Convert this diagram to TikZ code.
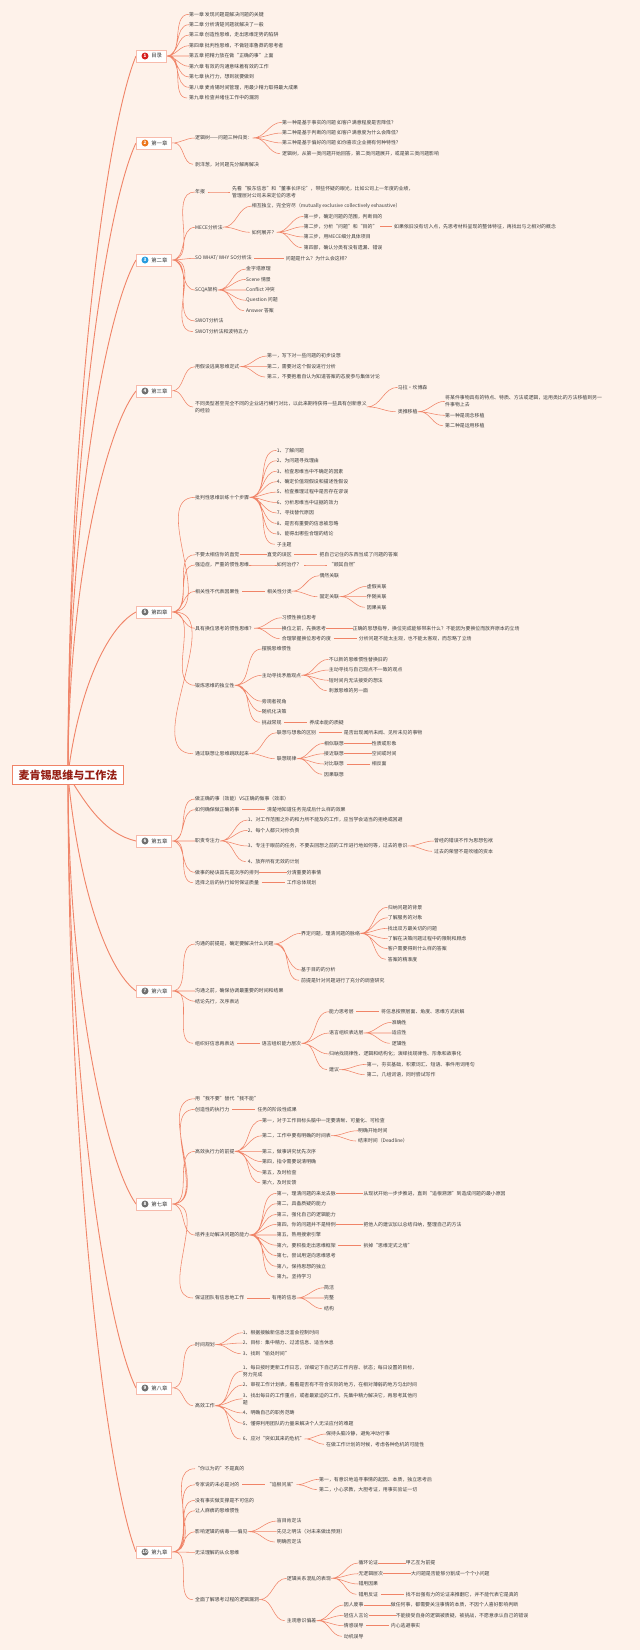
\documentclass[tikz,border=0pt]{standalone}
\usepackage{fontspec}
\setmainfont{Noto Sans CJK SC}
\usetikzlibrary{backgrounds}
\definecolor{bgpeach}{RGB}{254,242,234}
\definecolor{branchred}{RGB}{240,132,104}
\definecolor{inkgray}{RGB}{60,60,60}
\definecolor{rootred}{RGB}{150,30,20}
\definecolor{badgered}{RGB}{214,32,32}
\definecolor{badgeorange}{RGB}{236,118,28}
\definecolor{badgeblue}{RGB}{40,156,222}
\definecolor{badgegray}{RGB}{112,112,112}

\begin{document}
\begin{tikzpicture}[x=1pt, y=-1pt,
    root/.style={draw=branchred, fill=white, line width=0.8pt, inner xsep=6pt,
        inner ysep=4pt, font=\fontsize{11}{12}\selectfont\bfseries, text=rootred},
    chap/.style={anchor=west, draw=branchred!55, fill=white, line width=0.5pt,
        inner xsep=4pt, inner ysep=0pt, minimum height=12pt,
        font=\fontsize{5.4}{6}\selectfont, text=inkgray},
    badge/.style={circle, inner sep=0pt, minimum size=7pt, text=white,
        font=\fontsize{4.5}{5}\selectfont\bfseries},
    leaf/.style={anchor=west, inner xsep=0pt, inner ysep=1pt, align=left,
        font=\fontsize{4.9}{7}\selectfont, text=inkgray},
    link/.style={draw=branchred, line width=0.55pt, out=0, in=180,
        shorten <=2.5pt, shorten >=2pt},
    trunk/.style={draw=branchred, line width=0.9pt}
]

\begin{scope}[on background layer]
\fill[bgpeach] (0,0) rectangle (640,1650);
\end{scope}
\useasboundingbox (0,0) rectangle (640,1650);

% root and chapters
\node[root] (root) at (68,775) {麦肯锡思维与工作法};

\node[chap] (toc) at (136,56) {\hspace*{11pt}目录};
\node[chap] (ch1) at (136,143) {\hspace*{11pt}第一章};
\node[chap] (ch2) at (136,260) {\hspace*{11pt}第二章};
\node[chap] (ch3) at (136,391) {\hspace*{11pt}第三章};
\node[chap] (ch4) at (136,612) {\hspace*{11pt}第四章};
\node[chap] (ch5) at (136,841) {\hspace*{11pt}第五章};
\node[chap] (ch6) at (136,991) {\hspace*{11pt}第六章};
\node[chap] (ch7) at (136,1204) {\hspace*{11pt}第七章};
\node[chap] (ch8) at (136,1388) {\hspace*{11pt}第八章};
\node[chap] (ch9) at (136,1552) {\hspace*{11pt}第九章};

\node[badge, fill=badgered] (toc_n) at ([xshift=9pt]toc.west) {1};
\node[badge, fill=badgeorange] (ch1_n) at ([xshift=9pt]ch1.west) {2};
\node[badge, fill=badgeblue] (ch2_n) at ([xshift=9pt]ch2.west) {3};
\node[badge, fill=badgegray] (ch3_n) at ([xshift=9pt]ch3.west) {4};
\node[badge, fill=badgegray] (ch4_n) at ([xshift=9pt]ch4.west) {5};
\node[badge, fill=badgegray] (ch5_n) at ([xshift=9pt]ch5.west) {6};
\node[badge, fill=badgegray] (ch6_n) at ([xshift=9pt]ch6.west) {7};
\node[badge, fill=badgegray] (ch7_n) at ([xshift=9pt]ch7.west) {8};
\node[badge, fill=badgegray] (ch8_n) at ([xshift=9pt]ch8.west) {9};
\node[badge, fill=badgegray] (ch9_n) at ([xshift=9pt]ch9.west) {10};

% 目录
\node[leaf] (toc1) at (189,14.3) {第一章 发现问题是解决问题的关键};
\node[leaf] (toc2) at (189,24.7) {第二章 分析清楚问题就解决了一般};
\node[leaf] (toc3) at (189,35) {第三章 创造性思维，走出思维定势的陷阱};
\node[leaf] (toc4) at (189,45.7) {第四章 批判性思维，不做轻率鲁莽的思考者};
\node[leaf] (toc5) at (189,56) {第五章 把精力放在做“正确的事”上面};
\node[leaf] (toc6) at (189,66.3) {第六章 有效的沟通意味着有效的工作};
\node[leaf] (toc7) at (189,77) {第七章 执行力，想到就要做到};
\node[leaf] (toc8) at (189,87.3) {第八章 麦肯锡时间管理，用最少精力取得最大成果};
\node[leaf] (toc9) at (189,98) {第九章 检查并堵住工作中的漏洞};

% 第一章
\node[leaf] (c1a) at (195,138) {逻辑树——问题三种归类：};
\node[leaf] (c1a1) at (282,122.3) {第一种是基于事实的问题 如客户满意程度是否降低？};
\node[leaf] (c1a2) at (282,133) {第二种是基于判断的问题 如客户满意度为什么会降低？};
\node[leaf] (c1a3) at (282,143) {第三种是基于偏好的问题 如你喜欢企业拥有何种特性？};
\node[leaf] (c1a4) at (282,153.7) {逻辑树，从第一类问题开始回答，第二类问题展开，或是第三类问题影响};
\node[leaf] (c1b) at (195,164.3) {剥洋葱，对问题先分解再解决};

% 第二章
\node[leaf] (c2a) at (195,192) {年报};
\node[leaf] (c2a1) at (232,192) {先看“股东信息”和“董事长评论”，带些怀疑的眼光，比如公司上一年度的业绩，\\管理层对公司未来定位的思考};
\node[leaf] (c2b) at (195,227.3) {MECE分析法};
\node[leaf] (c2b1) at (251.7,206) {相互独立，完全穷尽（mutually exclusive collectively exhaustive）};
\node[leaf] (c2b2) at (251.7,232.3) {如何展开？};
\node[leaf] (c2b21) at (303.7,216.3) {第一步，确定问题的范围，判断目的};
\node[leaf] (c2b22) at (303.7,226.7) {第二步，分析“问题”和“目的”};
\node[leaf] (c2b221) at (394,226.7) {如果依旧没有切入点，先思考材料呈现的整体特征，再找出与之相对的概念};
\node[leaf] (c2b23) at (303.7,237) {第三步，用MECE细分具体项目};
\node[leaf] (c2b24) at (303.7,247.7) {第四部，确认分类有没有遗漏、错误};
\node[leaf] (c2c) at (195,258.3) {SO WHAT/ WHY SO分析法};
\node[leaf] (c2c1) at (285.7,258.3) {问题是什么？为什么会这样？};
\node[leaf] (c2d) at (195,290) {SCQA架构};
\node[leaf] (c2d1) at (246,269) {金字塔原理};
\node[leaf] (c2d2) at (246,279.3) {Scene 情景};
\node[leaf] (c2d3) at (246,290) {Conflict 冲突};
\node[leaf] (c2d4) at (246,300.3) {Question 问题};
\node[leaf] (c2d5) at (246,310.7) {Answer 答案};
\node[leaf] (c2e) at (195,321) {SWOT分析法};
\node[leaf] (c2f) at (195,331.7) {SWOT分析法和波特五力};

% 第三章
\node[leaf] (c3a) at (195,366.7) {用假设逃离思维定式};
\node[leaf] (c3a1) at (267,356) {第一，写下对一些问题的初步设想};
\node[leaf] (c3a2) at (267,366.7) {第二，需要对这个假设进行分析};
\node[leaf] (c3a3) at (267,377) {第三，不要抱着自认为知道答案的态度参与集体讨论};
\node[leaf] (c3b) at (195,407) {不同类型甚至完全不同的企业进行横行对比，以此来期待获得一些具有创新意义\\的经验};
\node[leaf] (c3b1) at (397.7,387.3) {马拉·坎博森};
\node[leaf] (c3b2) at (397.7,411.7) {类推移植};
\node[leaf] (c3b21) at (445,401.3) {将某件事物具有的特点、特质、方法或逻辑，运用类比的方法移植到另一\\件事物上去};
\node[leaf] (c3b22) at (445,415.3) {第一种是观念移植};
\node[leaf] (c3b23) at (445,425.7) {第二种是运用移植};

% 第四章
\node[leaf] (c4a) at (195,497.3) {批判性思维训练十个步骤};
\node[leaf] (c4a1) at (276.7,450.3) {1、了解问题};
\node[leaf] (c4a2) at (276.7,460.7) {2、为问题寻找理由};
\node[leaf] (c4a3) at (276.7,471.2) {3、检查思维当中不确定的因素};
\node[leaf] (c4a4) at (276.7,481.6) {4、确定价值观假设和描述性假设};
\node[leaf] (c4a5) at (276.7,492.1) {5、检查推理过程中是否存在谬误};
\node[leaf] (c4a6) at (276.7,502.5) {6、分析思维当中证据的效力};
\node[leaf] (c4a7) at (276.7,513) {7、寻找替代原因};
\node[leaf] (c4a8) at (276.7,523.4) {8、是否有重要的信息被忽略};
\node[leaf] (c4a9) at (276.7,533.9) {9、能得出哪些合理的结论};
\node[leaf] (c4a10) at (276.7,544.3) {子主题};
\node[leaf] (c4b) at (195,554.7) {不要太相信你的直觉};
\node[leaf] (c4b1) at (267,554.7) {直觉的误区};
\node[leaf] (c4b11) at (319.3,554.7) {把自己记住的东西当成了问题的答案};
\node[leaf] (c4c) at (195,565) {强迫症，严重的惯性思维};
\node[leaf] (c4c1) at (276.7,565) {如何治疗？};
\node[leaf] (c4c11) at (328.7,565) {“顺其自然”};
\node[leaf] (c4d) at (195,591.3) {相关性不代表因果性};
\node[leaf] (c4d1) at (267,591.3) {相关性分类};
\node[leaf] (c4d11) at (319.3,575.7) {偶然关联};
\node[leaf] (c4d12) at (319.3,596.7) {固定关联};
\node[leaf] (c4d121) at (366.7,586.3) {虚假关联};
\node[leaf] (c4d122) at (366.7,596.7) {伴随关联};
\node[leaf] (c4d123) at (366.7,607.3) {因果关联};
\node[leaf] (c4e) at (195,628.3) {具有换位思考的惯性思维？};
\node[leaf] (c4e1) at (281.7,617.7) {习惯性换位思考};
\node[leaf] (c4e2) at (281.7,628.3) {换位之前，先换思考};
\node[leaf] (c4e21) at (352.7,628.3) {正确的思想指导，换位完成能够带来什么？不能因为要换位而放弃原本的立场};
\node[leaf] (c4e3) at (281.7,638.7) {合理掌握换位思考的度};
\node[leaf] (c4e31) at (358.7,638.7) {分析问题不能太主观，也不能太客观，而忽略了立场};
\node[leaf] (c4f) at (195,685.3) {锻炼思维的独立性};
\node[leaf] (c4f1) at (261.7,649) {摆脱思维惯性};
\node[leaf] (c4f2) at (261.7,675.3) {主动寻找矛盾观点};
\node[leaf] (c4f21) at (328.7,659.3) {不以新的思维惯性替换旧的};
\node[leaf] (c4f22) at (328.7,670) {主动寻找与自己观点不一致的观点};
\node[leaf] (c4f23) at (328.7,680.3) {短时间内无法接受的想法};
\node[leaf] (c4f24) at (328.7,690.7) {刺激思维的另一面};
\node[leaf] (c4f3) at (261.7,701.3) {旁观者视角};
\node[leaf] (c4f4) at (261.7,711.7) {随机化决策};
\node[leaf] (c4f5) at (261.7,722.3) {挑战常规};
\node[leaf] (c4f51) at (309.3,722.3) {养成本能的质疑};
\node[leaf] (c4g) at (195,753.7) {通过联想让思维跳跃起来};
\node[leaf] (c4g1) at (276.7,732.7) {联想与想象的区别};
\node[leaf] (c4g11) at (343.7,732.7) {是否出现闻所未闻、见所未见的事物};
\node[leaf] (c4g2) at (276.7,758.7) {联想规律};
\node[leaf] (c4g21) at (324,743.3) {相似联想};
\node[leaf] (c4g211) at (371.7,743.3) {性质或形象};
\node[leaf] (c4g22) at (324,753.7) {接近联想};
\node[leaf] (c4g221) at (371.7,753.7) {空间或时间};
\node[leaf] (c4g23) at (324,764) {对比联想};
\node[leaf] (c4g231) at (371.7,764) {相反面};
\node[leaf] (c4g24) at (324,774.3) {因果联想};

% 第五章
\node[leaf] (c5a) at (195,799) {做正确的事（效能）VS正确的做事（效率）};
\node[leaf] (c5b) at (195,809.7) {如何确保做正确的事};
\node[leaf] (c5b1) at (267,809.7) {清楚地知道任务完成后什么样的效果};
\node[leaf] (c5c) at (195,841) {职责专注力};
\node[leaf] (c5c1) at (247.7,820) {1、对工作范围之外的和力所不能及的工作，应当学会适当的拒绝或回避};
\node[leaf] (c5c2) at (247.7,830.3) {2、每个人都只对你负责};
\node[leaf] (c5c3) at (247.7,846) {3、专注于眼前的任务，不要去回想之前的工作进行地如何等，过去的意识};
\node[leaf] (c5c31) at (434,841) {曾经的错误不作为思想包袱};
\node[leaf] (c5c32) at (434,851.3) {过去的荣誉不是吹嘘的资本};
\node[leaf] (c5c4) at (247.7,861.7) {4、放弃所有无效的计划};
\node[leaf] (c5d) at (195,872.3) {做事的秘诀首先是次序的排列};
\node[leaf] (c5d1) at (286.7,872.3) {分清重要的事情};
\node[leaf] (c5e) at (195,882.7) {选择之后的执行如何保证质量};
\node[leaf] (c5e1) at (286.7,882.7) {工作总体规划};

% 第六章
\node[leaf] (c6a) at (195,944) {沟通的前提是，确定要解决什么问题};
\node[leaf] (c6a1) at (301,933.3) {界定问题，理清问题的脉络};
\node[leaf] (c6a11) at (387.7,907.3) {归纳问题的背景};
\node[leaf] (c6a12) at (387.7,917.7) {了解服务的对象};
\node[leaf] (c6a13) at (387.7,928.3) {找出双方最关切的问题};
\node[leaf] (c6a14) at (387.7,938.7) {了解在决策问题过程中的限制和顾虑};
\node[leaf] (c6a15) at (387.7,948.7) {客户需要得到什么样的答案};
\node[leaf] (c6a16) at (387.7,959.3) {答案的精准度};
\node[leaf] (c6a2) at (301,970) {基于目的的分析};
\node[leaf] (c6a3) at (301,980.3) {前提是针对问题进行了充分的调查研究};
\node[leaf] (c6b) at (195,991) {沟通之前，确保协调最重要的时间和结果};
\node[leaf] (c6c) at (195,1001.3) {结论先行，次序表达};
\node[leaf] (c6d) at (195,1043.3) {组织好信息再表达};
\node[leaf] (c6d1) at (261.7,1043.3) {语言组织能力层次};
\node[leaf] (c6d11) at (329,1011.7) {能力思考层};
\node[leaf] (c6d111) at (381,1011.7) {将信息按照层面、角度、思维方式拆解};
\node[leaf] (c6d12) at (329,1033) {语言组织表达层};
\node[leaf] (c6d121) at (391.7,1022.3) {准确性};
\node[leaf] (c6d122) at (391.7,1033) {适应性};
\node[leaf] (c6d123) at (391.7,1043.3) {逻辑性};
\node[leaf] (c6d13) at (329,1054) {归纳找规律性、逻辑和结构化；演绎找规律性、形象和故事化};
\node[leaf] (c6d14) at (329,1069.7) {建议};
\node[leaf] (c6d141) at (366.7,1064.3) {第一，夯实基础，积累词汇、短语、事件用词用句};
\node[leaf] (c6d142) at (366.7,1074.7) {第二，几组词语，同时尝试写作};

% 第七章
\node[leaf] (c7a) at (195,1098.7) {用“我不要”替代“我不能”};
\node[leaf] (c7b) at (195,1109.3) {创造性的执行力};
\node[leaf] (c7b1) at (257.3,1109.3) {任务的阶段性成果};
\node[leaf] (c7c) at (195,1151.3) {高效执行力的前提};
\node[leaf] (c7c1) at (262,1120.3) {第一，对于工作目标头脑中一定要清晰、可量化、可检查};
\node[leaf] (c7c2) at (262,1135.7) {第二，工作中要有明确的时间表};
\node[leaf] (c7c21) at (358,1130.7) {明确开始时间};
\node[leaf] (c7c22) at (358,1141) {结束时间（Deadline）};
\node[leaf] (c7c3) at (262,1151.3) {第三，做事讲究优先次序};
\node[leaf] (c7c4) at (262,1161.7) {第四，指令需要说清明确};
\node[leaf] (c7c5) at (262,1172.3) {第五，及时检查};
\node[leaf] (c7c6) at (262,1182.7) {第六，及时反馈};
\node[leaf] (c7d) at (195,1235) {培养主动解决问题的能力};
\node[leaf] (c7d1) at (276.7,1193.3) {第一，理清问题的来龙去脉};
\node[leaf] (c7d11) at (363.3,1193.3) {从现状开始一步步推进，直到“追根溯源”到造成问题的最小原因};
\node[leaf] (c7d2) at (276.7,1203.7) {第二，具备质疑的能力};
\node[leaf] (c7d3) at (276.7,1214.3) {第三，强化自己的逻辑能力};
\node[leaf] (c7d4) at (276.7,1224.3) {第四，你的问题并不是特例};
\node[leaf] (c7d41) at (363.3,1224.3) {把他人的建议加以总结归纳，整理自己的方法};
\node[leaf] (c7d5) at (276.7,1235) {第五，熟用搜索引擎};
\node[leaf] (c7d6) at (276.7,1245.3) {第六，要积极走出思维框架};
\node[leaf] (c7d61) at (363.3,1245.3) {拆掉“思维定式之墙”};
\node[leaf] (c7d7) at (276.7,1255.7) {第七，尝试用逆向思维思考};
\node[leaf] (c7d8) at (276.7,1266.3) {第八，保持思想的独立};
\node[leaf] (c7d9) at (276.7,1277) {第九，坚持学习};
\node[leaf] (c7e) at (195,1298) {保证团队有信息地工作};
\node[leaf] (c7e1) at (271.7,1298) {有用的信息};
\node[leaf] (c7e11) at (324,1287.7) {简洁};
\node[leaf] (c7e12) at (324,1298) {完整};
\node[leaf] (c7e13) at (324,1308.7) {结构};

% 第八章
\node[leaf] (c8a) at (195,1344.7) {时间规划};
\node[leaf] (c8a1) at (242.7,1332.7) {1、根据接触新信息泛滥会控制时间};
\node[leaf] (c8a2) at (242.7,1343) {2、目标：集中精力、过滤信息、适当休息};
\node[leaf] (c8a3) at (242.7,1353.7) {3、找到“偷处时间”};
\node[leaf] (c8b) at (195,1405.7) {高效工作};
\node[leaf] (c8b1) at (242.7,1371) {1、每日按时更新工作日志，详细记下自己的工作内容、状态；每日设置的目标，\\努力完成};
\node[leaf] (c8b2) at (242.7,1385) {2、审视工作计划表，看看是否有不符合实际的地方，在相对薄弱的地方匀出时间};
\node[leaf] (c8b3) at (242.7,1398.8) {3、找出每日的工作重点，或者最紧迫的工作，先集中精力解决它，再思考其他问\\题};
\node[leaf] (c8b4) at (242.7,1413) {4、明确自己的职务范畴};
\node[leaf] (c8b5) at (242.7,1423.3) {5、懂得利用团队的力量来解决个人无法应付的难题};
\node[leaf] (c8b6) at (242.7,1439) {6、应对“突如其来的危机”};
\node[leaf] (c8b61) at (326,1434) {保持头脑冷静，避免冲动行事};
\node[leaf] (c8b62) at (326,1444.3) {在做工作计划的时候，考虑各种危机的可能性};

% 第九章
\node[leaf] (c9a) at (195,1468.7) {“你以为的”不是真的};
\node[leaf] (c9b) at (195,1484.7) {专家说的未必是对的};
\node[leaf] (c9b1) at (266.7,1484.7) {“追根问底”};
\node[leaf] (c9b11) at (319,1479.3) {第一，有意识地追寻事情的起因、本质，独立思考后};
\node[leaf] (c9b12) at (319,1489.7) {第二，小心求教，大胆考证，用事实验证一切};
\node[leaf] (c9c) at (195,1500.3) {没有事实做支撑是不可信的};
\node[leaf] (c9d) at (195,1510.7) {让人麻痹的思维惯性};
\node[leaf] (c9e) at (195,1531.7) {影响逻辑的病毒——偏见};
\node[leaf] (c9e1) at (276.7,1521) {盲目肯定法};
\node[leaf] (c9e2) at (276.7,1531.7) {先见之明法（对未来做出预测）};
\node[leaf] (c9e3) at (276.7,1542) {明确否定法};
\node[leaf] (c9f) at (195,1552.3) {无法理解的从众思维};
\node[leaf] (c9g) at (195,1599.7) {全面了解思考过程的逻辑漏洞};
\node[leaf] (c9g1) at (286.7,1578.3) {逻辑关系混乱的表现};
\node[leaf] (c9g11) at (358.3,1563) {循环论证};
\node[leaf] (c9g111) at (405.7,1563) {甲乙互为前提};
\node[leaf] (c9g12) at (358.3,1573.7) {无逻辑层次};
\node[leaf] (c9g121) at (411,1573.7) {大问题是否能够分割成一个个小问题};
\node[leaf] (c9g13) at (358.3,1584) {错用因果};
\node[leaf] (c9g14) at (358.3,1594.3) {错用反证};
\node[leaf] (c9g141) at (405.7,1594.3) {找不出强有力的论证来推翻它，并不能代表它是真的};
\node[leaf] (c9g2) at (286.7,1620.7) {主观意识偏差};
\node[leaf] (c9g21) at (343.7,1605) {因人废事};
\node[leaf] (c9g211) at (390.7,1605) {做任何事，都需要关注事情的本质，不因个人喜好影响判断};
\node[leaf] (c9g22) at (343.7,1615.3) {轻信人言论};
\node[leaf] (c9g221) at (395.7,1615.3) {不能接受自身的逻辑被质疑，被挑战，不愿意承认自己的错误};
\node[leaf] (c9g23) at (343.7,1625.7) {情感误导};
\node[leaf] (c9g231) at (390.7,1625.7) {内心逃避事实};
\node[leaf] (c9g24) at (343.7,1636.3) {动机误导};

\begin{scope}[on background layer]
% root to chapters
\draw[trunk] (root.center) .. controls +(0,-360) and +(-30,72) .. (toc.west);
\draw[trunk] (root.center) .. controls +(0,-316) and +(-30,63) .. (ch1.west);
\draw[trunk] (root.center) .. controls +(0,-258) and +(-30,52) .. (ch2.west);
\draw[trunk] (root.center) .. controls +(0,-192) and +(-30,38) .. (ch3.west);
\draw[trunk] (root.center) .. controls +(10,-82) and +(-30,16) .. (ch4.west);
\draw[trunk] (root.center) .. controls +(20,33) and +(-30,-7) .. (ch5.west);
\draw[trunk] (root.center) .. controls +(10,108) and +(-30,-22) .. (ch6.west);
\draw[trunk] (root.center) .. controls +(0,215) and +(-30,-43) .. (ch7.west);
\draw[trunk] (root.center) .. controls +(0,307) and +(-30,-61) .. (ch8.west);
\draw[trunk] (root.center) .. controls +(0,389) and +(-30,-78) .. (ch9.west);

% 目录
\draw[link] (toc.east) to (toc1.west) (toc.east) to (toc2.west) (toc.east) to (toc3.west)
    (toc.east) to (toc4.west) (toc.east) to (toc5.west) (toc.east) to (toc6.west)
    (toc.east) to (toc7.west) (toc.east) to (toc8.west) (toc.east) to (toc9.west);

% 第一章
\draw[link] (ch1.east) to (c1a.west) (ch1.east) to (c1b.west);
\draw[link] (c1a.east) to (c1a1.west) (c1a.east) to (c1a2.west)
    (c1a.east) to (c1a3.west) (c1a.east) to (c1a4.west);

% 第二章
\draw[link] (ch2.east) to (c2a.west) (ch2.east) to (c2b.west) (ch2.east) to (c2c.west)
    (ch2.east) to (c2d.west) (ch2.east) to (c2e.west) (ch2.east) to (c2f.west);
\draw[link] (c2a.east) to (c2a1.west);
\draw[link] (c2b.east) to (c2b1.west) (c2b.east) to (c2b2.west);
\draw[link] (c2b2.east) to (c2b21.west) (c2b2.east) to (c2b22.west)
    (c2b2.east) to (c2b23.west) (c2b2.east) to (c2b24.west);
\draw[link] (c2b22.east) to (c2b221.west);
\draw[link] (c2c.east) to (c2c1.west);
\draw[link] (c2d.east) to (c2d1.west) (c2d.east) to (c2d2.west) (c2d.east) to (c2d3.west)
    (c2d.east) to (c2d4.west) (c2d.east) to (c2d5.west);

% 第三章
\draw[link] (ch3.east) to (c3a.west) (ch3.east) to (c3b.west);
\draw[link] (c3a.east) to (c3a1.west) (c3a.east) to (c3a2.west) (c3a.east) to (c3a3.west);
\draw[link] (c3b.east) to (c3b1.west) (c3b.east) to (c3b2.west);
\draw[link] (c3b2.east) to (c3b21.west) (c3b2.east) to (c3b22.west) (c3b2.east) to (c3b23.west);

% 第四章
\draw[link] (ch4.east) to (c4a.west) (ch4.east) to (c4b.west) (ch4.east) to (c4c.west)
    (ch4.east) to (c4d.west) (ch4.east) to (c4e.west) (ch4.east) to (c4f.west)
    (ch4.east) to (c4g.west);
\draw[link] (c4a.east) to (c4a1.west) (c4a.east) to (c4a2.west) (c4a.east) to (c4a3.west)
    (c4a.east) to (c4a4.west) (c4a.east) to (c4a5.west) (c4a.east) to (c4a6.west)
    (c4a.east) to (c4a7.west) (c4a.east) to (c4a8.west) (c4a.east) to (c4a9.west)
    (c4a.east) to (c4a10.west);
\draw[link] (c4b.east) to (c4b1.west) (c4b1.east) to (c4b11.west);
\draw[link] (c4c.east) to (c4c1.west) (c4c1.east) to (c4c11.west);
\draw[link] (c4d.east) to (c4d1.west);
\draw[link] (c4d1.east) to (c4d11.west) (c4d1.east) to (c4d12.west);
\draw[link] (c4d12.east) to (c4d121.west) (c4d12.east) to (c4d122.west) (c4d12.east) to (c4d123.west);
\draw[link] (c4e.east) to (c4e1.west) (c4e.east) to (c4e2.west) (c4e.east) to (c4e3.west);
\draw[link] (c4e2.east) to (c4e21.west) (c4e3.east) to (c4e31.west);
\draw[link] (c4f.east) to (c4f1.west) (c4f.east) to (c4f2.west) (c4f.east) to (c4f3.west)
    (c4f.east) to (c4f4.west) (c4f.east) to (c4f5.west);
\draw[link] (c4f2.east) to (c4f21.west) (c4f2.east) to (c4f22.west)
    (c4f2.east) to (c4f23.west) (c4f2.east) to (c4f24.west);
\draw[link] (c4f5.east) to (c4f51.west);
\draw[link] (c4g.east) to (c4g1.west) (c4g.east) to (c4g2.west);
\draw[link] (c4g1.east) to (c4g11.west);
\draw[link] (c4g2.east) to (c4g21.west) (c4g2.east) to (c4g22.west)
    (c4g2.east) to (c4g23.west) (c4g2.east) to (c4g24.west);
\draw[link] (c4g21.east) to (c4g211.west) (c4g22.east) to (c4g221.west) (c4g23.east) to (c4g231.west);

% 第五章
\draw[link] (ch5.east) to (c5a.west) (ch5.east) to (c5b.west) (ch5.east) to (c5c.west)
    (ch5.east) to (c5d.west) (ch5.east) to (c5e.west);
\draw[link] (c5b.east) to (c5b1.west);
\draw[link] (c5c.east) to (c5c1.west) (c5c.east) to (c5c2.west)
    (c5c.east) to (c5c3.west) (c5c.east) to (c5c4.west);
\draw[link] (c5c3.east) to (c5c31.west) (c5c3.east) to (c5c32.west);
\draw[link] (c5d.east) to (c5d1.west) (c5e.east) to (c5e1.west);

% 第六章
\draw[link] (ch6.east) to (c6a.west) (ch6.east) to (c6b.west) (ch6.east) to (c6c.west)
    (ch6.east) to (c6d.west);
\draw[link] (c6a.east) to (c6a1.west) (c6a.east) to (c6a2.west) (c6a.east) to (c6a3.west);
\draw[link] (c6a1.east) to (c6a11.west) (c6a1.east) to (c6a12.west) (c6a1.east) to (c6a13.west)
    (c6a1.east) to (c6a14.west) (c6a1.east) to (c6a15.west) (c6a1.east) to (c6a16.west);
\draw[link] (c6d.east) to (c6d1.west);
\draw[link] (c6d1.east) to (c6d11.west) (c6d1.east) to (c6d12.west)
    (c6d1.east) to (c6d13.west) (c6d1.east) to (c6d14.west);
\draw[link] (c6d11.east) to (c6d111.west);
\draw[link] (c6d12.east) to (c6d121.west) (c6d12.east) to (c6d122.west) (c6d12.east) to (c6d123.west);
\draw[link] (c6d14.east) to (c6d141.west) (c6d14.east) to (c6d142.west);

% 第七章
\draw[link] (ch7.east) to (c7a.west) (ch7.east) to (c7b.west) (ch7.east) to (c7c.west)
    (ch7.east) to (c7d.west) (ch7.east) to (c7e.west);
\draw[link] (c7b.east) to (c7b1.west);
\draw[link] (c7c.east) to (c7c1.west) (c7c.east) to (c7c2.west) (c7c.east) to (c7c3.west)
    (c7c.east) to (c7c4.west) (c7c.east) to (c7c5.west) (c7c.east) to (c7c6.west);
\draw[link] (c7c2.east) to (c7c21.west) (c7c2.east) to (c7c22.west);
\draw[link] (c7d.east) to (c7d1.west) (c7d.east) to (c7d2.west) (c7d.east) to (c7d3.west)
    (c7d.east) to (c7d4.west) (c7d.east) to (c7d5.west) (c7d.east) to (c7d6.west)
    (c7d.east) to (c7d7.west) (c7d.east) to (c7d8.west) (c7d.east) to (c7d9.west);
\draw[link] (c7d1.east) to (c7d11.west) (c7d4.east) to (c7d41.west) (c7d6.east) to (c7d61.west);
\draw[link] (c7e.east) to (c7e1.west);
\draw[link] (c7e1.east) to (c7e11.west) (c7e1.east) to (c7e12.west) (c7e1.east) to (c7e13.west);

% 第八章
\draw[link] (ch8.east) to (c8a.west) (ch8.east) to (c8b.west);
\draw[link] (c8a.east) to (c8a1.west) (c8a.east) to (c8a2.west) (c8a.east) to (c8a3.west);
\draw[link] (c8b.east) to (c8b1.west) (c8b.east) to (c8b2.west) (c8b.east) to (c8b3.west)
    (c8b.east) to (c8b4.west) (c8b.east) to (c8b5.west) (c8b.east) to (c8b6.west);
\draw[link] (c8b6.east) to (c8b61.west) (c8b6.east) to (c8b62.west);

% 第九章
\draw[link] (ch9.east) to (c9a.west) (ch9.east) to (c9b.west) (ch9.east) to (c9c.west)
    (ch9.east) to (c9d.west) (ch9.east) to (c9e.west) (ch9.east) to (c9f.west)
    (ch9.east) to (c9g.west);
\draw[link] (c9b.east) to (c9b1.west);
\draw[link] (c9b1.east) to (c9b11.west) (c9b1.east) to (c9b12.west);
\draw[link] (c9e.east) to (c9e1.west) (c9e.east) to (c9e2.west) (c9e.east) to (c9e3.west);
\draw[link] (c9g.east) to (c9g1.west) (c9g.east) to (c9g2.west);
\draw[link] (c9g1.east) to (c9g11.west) (c9g1.east) to (c9g12.west)
    (c9g1.east) to (c9g13.west) (c9g1.east) to (c9g14.west);
\draw[link] (c9g11.east) to (c9g111.west) (c9g12.east) to (c9g121.west) (c9g14.east) to (c9g141.west);
\draw[link] (c9g2.east) to (c9g21.west) (c9g2.east) to (c9g22.west)
    (c9g2.east) to (c9g23.west) (c9g2.east) to (c9g24.west);
\draw[link] (c9g21.east) to (c9g211.west) (c9g22.east) to (c9g221.west) (c9g23.east) to (c9g231.west);
\end{scope}

\end{tikzpicture}
\end{document}
